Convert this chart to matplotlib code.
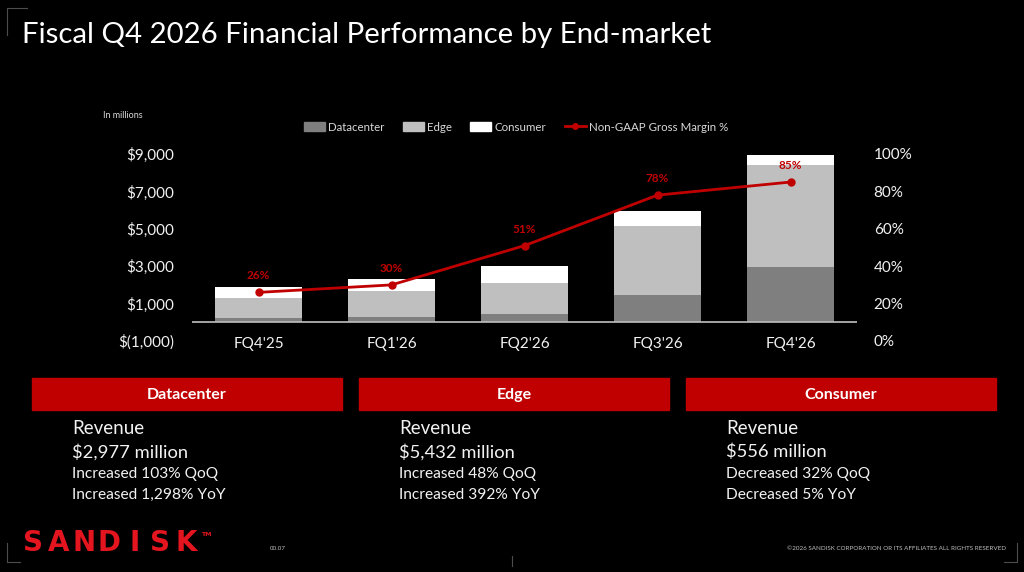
import matplotlib
matplotlib.use("Agg")
import matplotlib.pyplot as plt
from matplotlib.patches import Rectangle, Patch
from matplotlib.lines import Line2D
from matplotlib.ticker import FuncFormatter, PercentFormatter

plt.rcParams['font.family'] = ['Lato', 'DejaVu Sans']

# ---------------- data ----------------
quarters = ["FQ4'25", "FQ1'26", "FQ2'26", "FQ3'26", "FQ4'26"]
datacenter = [213, 269, 440, 1467, 2977]
edge = [1104, 1387, 1678, 3670, 5432]
consumer = [585, 652, 907, 818, 556]
gross_margin = [0.26, 0.30, 0.51, 0.78, 0.85]
margin_labels = ["26%", "30%", "51%", "78%", "85%"]
left_ticks = [-1000, 1000, 3000, 5000, 7000, 9000]
right_ticks = [0.0, 0.2, 0.4, 0.6, 0.8, 1.0]

segments = ["Datacenter", "Edge", "Consumer"]
seg_revenue = ["$2,977 million", "$5,432 million", "$556 million"]
seg_qoq = ["Increased 103% QoQ", "Increased 48% QoQ", "Decreased 32% QoQ"]
seg_yoy = ["Increased 1,298% YoY", "Increased 392% YoY", "Decreased 5% YoY"]

title = "Fiscal Q4 2026 Financial Performance by End-market"
logo = "SANDISK"

# ---------------- styles ----------------
W, H = 1024, 572
BG = "black"
C_DC = "#7f7f7f"
C_EDGE = "#bfbfbf"
C_CONS = "#ffffff"
RED = "#c00000"
LOGO_RED = "#e4151f"
TXT = "#f2f2f2"

fig = plt.figure(figsize=(W / 100, H / 100), dpi=100, facecolor=BG)


def fx(px):
    return px / W


def fy(py):
    return 1 - py / H


# ---------------- chart ----------------
ax = fig.add_axes([fx(192), fy(341), fx(857) - fx(192), fy(154) - fy(341)])
ax.set_facecolor(BG)
x = list(range(len(quarters)))
bw = 0.66
bottom2 = [a + b for a, b in zip(datacenter, edge)]
ax.bar(x, datacenter, width=bw, color=C_DC, zorder=2)
ax.bar(x, edge, width=bw, bottom=datacenter, color=C_EDGE, zorder=2)
ax.bar(x, consumer, width=bw, bottom=bottom2, color=C_CONS, zorder=2)
ax.axhline(0, color="#bfbfbf", lw=1.2, zorder=3)
ax.set_xlim(-0.5, len(quarters) - 0.5)
ax.set_ylim(-1000, 9000)
ax.set_yticks(left_ticks)


def money(v, pos=None):
    if v < 0:
        return "$({:,.0f})".format(-v)
    return "${:,.0f}".format(v)


ax.yaxis.set_major_formatter(FuncFormatter(money))
ax.set_xticks(x)
ax.set_xticklabels(quarters)
for s in ax.spines.values():
    s.set_visible(False)
ax.tick_params(axis="both", length=0, colors=TXT, labelsize=11)
ax.tick_params(axis="y", pad=13)
ax.tick_params(axis="x", pad=-3)

ax2 = ax.twinx()
ax2.set_ylim(0, 1)
ax2.set_yticks(right_ticks)
ax2.yaxis.set_major_formatter(PercentFormatter(1.0, decimals=0))
for s in ax2.spines.values():
    s.set_visible(False)
ax2.tick_params(axis="y", length=0, colors=TXT, labelsize=11, pad=12)
ax2.plot(x, gross_margin, color=RED, lw=2, marker="o", ms=5, zorder=5)
for xi, m, lab in zip(x, gross_margin, margin_labels):
    ax2.annotate(lab, (xi, m), xytext=(0, 8), textcoords="offset points",
                 ha="center", va="bottom", color=RED, fontsize=8.5,
                 fontweight="bold")

handles = [Patch(color=C_DC), Patch(color=C_EDGE), Patch(color=C_CONS),
           Line2D([], [], color=RED, lw=2, marker="o", ms=4)]
leg = fig.legend(handles, ["Datacenter", "Edge", "Consumer", "Non-GAAP Gross Margin %"],
                 loc="center", bbox_to_anchor=(fx(516), fy(127)), ncol=4,
                 frameon=False, fontsize=8.3, labelcolor="#d9d9d9",
                 handlelength=1.8, handleheight=0.7, handletextpad=0.3,
                 columnspacing=1.6)

fig.text(fx(103), fy(115), "In millions", color="#d9d9d9", fontsize=6.5,
         ha="left", va="center")

# ---------------- title ----------------
fig.text(fx(22), fy(35), title, color="white", fontsize=21.2, ha="left", va="center")

# ---------------- segment boxes ----------------
box_left = [32, 359, 686]
box_w = 310
for bl, name, rev, q, yy in zip(box_left, segments, seg_revenue, seg_qoq, seg_yoy):
    fig.patches.append(Rectangle((fx(bl), fy(410)), fx(box_w), fy(378) - fy(410),
                                 transform=fig.transFigure, color=RED, zorder=1))
    fig.text(fx(bl + box_w / 2), fy(395), name, color="white", fontsize=11.5,
             fontweight="bold", ha="center", va="center")
    tx = fx(bl + 40)
    fig.text(tx, fy(429), "Revenue", color=TXT, fontsize=13.5, ha="left", va="center")
    fig.text(tx, fy(452), rev, color=TXT, fontsize=13.2, ha="left", va="center")
    fig.text(tx, fy(474), q, color=TXT, fontsize=11.2, ha="left", va="center")
    fig.text(tx, fy(495), yy, color=TXT, fontsize=11.2, ha="left", va="center")

# ---------------- footer ----------------
for i, ch in enumerate(logo):
    fig.text(fx(33 + i * 25.5), fy(543), ch, color=LOGO_RED, fontsize=20,
             fontweight="heavy", family="DejaVu Sans", ha="center", va="center")
fig.text(fx(201), fy(535), "TM", color=LOGO_RED, fontsize=4.5,
         ha="left", va="center", family="DejaVu Sans", fontweight="bold")
fig.text(fx(270), fy(548), "00.07", color="#bfbfbf", fontsize=4.5, ha="left", va="center")
fig.text(fx(1006), fy(548), "\u00a92026 SANDISK CORPORATION OR ITS AFFILIATES ALL RIGHTS RESERVED",
         color="#bfbfbf", fontsize=4.5, ha="right", va="center")

# corner brackets / decoration
gray = "#4d4d4d"
for xs, ys in [([7, 7, 27], [35, 8, 8]),
               ([7, 7, 20], [543, 562, 562]),
               ([1017, 1017, 1004], [543, 562, 562])]:
    fig.lines.append(Line2D([fx(v) for v in xs], [fy(v) for v in ys],
                            transform=fig.transFigure, color=gray, lw=0.8))
fig.lines.append(Line2D([fx(512), fx(512)], [fy(556), fy(566)],
                        transform=fig.transFigure, color=gray, lw=0.8))

fig.savefig("out.png", dpi=100, facecolor=BG)
